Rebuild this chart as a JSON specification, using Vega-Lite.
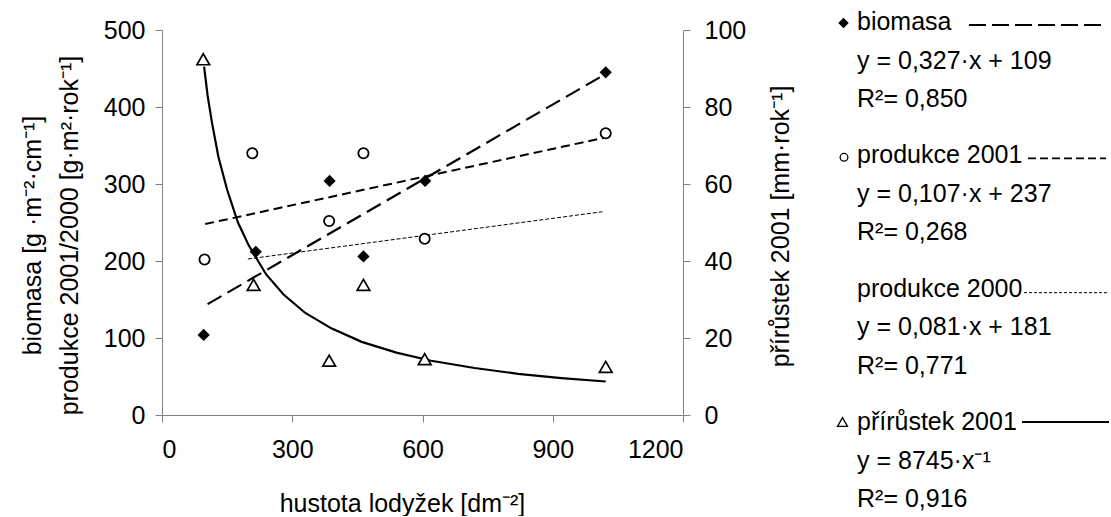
{
  "$schema": "https://vega.github.io/schema/vega-lite/v6.json",
  "padding": {"left": 20, "top": 10, "right": 0, "bottom": 0},
  "background": "white",
  "bounds": "flush",
  "spacing": 154,
  "config": {
    "view": {"stroke": null},
    "font": "Liberation Sans",
    "axis": {
      "domainColor": "#808080",
      "tickColor": "#808080",
      "domainWidth": 1,
      "tickWidth": 1,
      "tickSize": 7,
      "grid": false,
      "labelColor": "black",
      "titleColor": "black",
      "labelFont": "Liberation Sans",
      "titleFont": "Liberation Sans",
      "labelFontSize": 25,
      "titleFontSize": 25,
      "titleFontWeight": "normal"
    }
  },
  "datasets": {
    "pts": [
      {"series": "biomasa", "x": 96, "value": 104},
      {"series": "biomasa", "x": 216, "value": 212},
      {"series": "biomasa", "x": 386, "value": 304},
      {"series": "biomasa", "x": 464, "value": 206},
      {"series": "biomasa", "x": 606, "value": 304},
      {"series": "biomasa", "x": 1022, "value": 445},
      {"series": "produkce 2001", "x": 98, "value": 202},
      {"series": "produkce 2001", "x": 208, "value": 340},
      {"series": "produkce 2001", "x": 385, "value": 252},
      {"series": "produkce 2001", "x": 464, "value": 340},
      {"series": "produkce 2001", "x": 605, "value": 229},
      {"series": "produkce 2001", "x": 1022, "value": 366},
      {"series": "přírůstek 2001", "x": 95, "value": 92.4},
      {"series": "přírůstek 2001", "x": 211, "value": 33.8},
      {"series": "přírůstek 2001", "x": 385, "value": 14.1},
      {"series": "přírůstek 2001", "x": 464, "value": 33.8},
      {"series": "přírůstek 2001", "x": 605, "value": 14.5},
      {"series": "přírůstek 2001", "x": 1022, "value": 12.5},
      {"series": "trend biomasa", "x": 105, "value": 144},
      {"series": "trend biomasa", "x": 1022, "value": 443},
      {"series": "trend produkce 2001", "x": 99.5, "value": 248},
      {"series": "trend produkce 2001", "x": 1022, "value": 360.5},
      {"series": "trend produkce 2000", "x": 197.7, "value": 202.6},
      {"series": "trend produkce 2000", "x": 1014.5, "value": 264},
      {"series": "trend přírůstek 2001", "x": 97, "value": 90.5},
      {"series": "trend přírůstek 2001", "x": 105, "value": 83},
      {"series": "trend přírůstek 2001", "x": 115, "value": 76},
      {"series": "trend přírůstek 2001", "x": 130, "value": 67},
      {"series": "trend přírůstek 2001", "x": 150, "value": 58.5},
      {"series": "trend přírůstek 2001", "x": 175, "value": 50},
      {"series": "trend přírůstek 2001", "x": 200, "value": 44},
      {"series": "trend přírůstek 2001", "x": 240, "value": 36.5},
      {"series": "trend přírůstek 2001", "x": 280, "value": 31.3},
      {"series": "trend přírůstek 2001", "x": 330, "value": 26.5},
      {"series": "trend přírůstek 2001", "x": 390, "value": 22.5},
      {"series": "trend přírůstek 2001", "x": 460, "value": 19},
      {"series": "trend přírůstek 2001", "x": 540, "value": 16.2},
      {"series": "trend přírůstek 2001", "x": 620, "value": 14.1},
      {"series": "trend přírůstek 2001", "x": 720, "value": 12.2},
      {"series": "trend přírůstek 2001", "x": 820, "value": 10.7},
      {"series": "trend přírůstek 2001", "x": 920, "value": 9.6},
      {"series": "trend přírůstek 2001", "x": 1022, "value": 8.7}
    ],
    "legend": [
      {"group": "biomasa", "lines": ["biomasa", "y = 0,327·x + 109", "R²= 0,850"]},
      {"group": "produkce 2001", "lines": ["produkce 2001", "y = 0,107·x + 237", "R²= 0,268"]},
      {"group": "produkce 2000", "lines": ["produkce 2000", "y = 0,081·x + 181", "R²= 0,771"]},
      {"group": "přírůstek 2001", "lines": ["přírůstek 2001", "y = 8745·x⁻¹", "R²= 0,916"]}
    ]
  },
  "hconcat": [
    {
      "width": 521,
      "height": 385,
      "data": {"name": "pts"},
      "encoding": {
        "x": {"field": "x", "type": "quantitative", "scale": {"domain": [0, 1200], "nice": false},
          "axis": {"values": [0, 300, 600, 900, 1200], "format": "d", "title": "hustota lodyžek [dm⁻²]", "labelPadding": 15, "titlePadding": 29, "titleX": 240}}
      },
      "layer": [
        {
          "encoding": {
            "y": {"field": "value", "type": "quantitative", "scale": {"domain": [0, 500], "nice": false},
              "axis": {"orient": "left", "values": [0, 100, 200, 300, 400, 500], "format": "d", "title": ["biomasa [g ·m⁻²·cm⁻¹]", "produkce 2001/2000 [g·m²·rok⁻¹]"], "titleLineHeight": 37, "labelPadding": 10, "titlePadding": 21, "titleY": 205}}
          },
          "layer": [
            {"transform": [{"filter": "datum.series === 'trend produkce 2000'"}], "mark": {"type": "line", "color": "black", "strokeWidth": 1, "strokeDash": [4, 2]}},
            {"transform": [{"filter": "datum.series === 'trend produkce 2001'"}], "mark": {"type": "line", "color": "black", "strokeWidth": 2, "strokeDash": [9, 5]}},
            {"transform": [{"filter": "datum.series === 'trend biomasa'"}], "mark": {"type": "line", "color": "black", "strokeWidth": 2.2, "strokeDash": [16, 7]}},
            {"transform": [{"filter": "datum.series === 'produkce 2001'"}], "mark": {"type": "point", "shape": "circle", "filled": true, "fill": "white", "stroke": "black", "strokeWidth": 1.8, "size": 105, "opacity": 1}},
            {"transform": [{"filter": "datum.series === 'biomasa'"}], "mark": {"type": "point", "shape": "diamond", "filled": true, "color": "black", "size": 150, "opacity": 1}}
          ]
        },
        {
          "encoding": {
            "y": {"field": "value", "type": "quantitative", "scale": {"domain": [0, 100], "nice": false},
              "axis": {"orient": "right", "values": [0, 20, 40, 60, 80, 100], "format": "d", "title": "přírůstek 2001 [mm·rok⁻¹]", "titleAngle": 270, "titleBaseline": "top", "labelPadding": 14, "titlePadding": 23, "titleY": 196}}
          },
          "layer": [
            {"transform": [{"filter": "datum.series === 'trend přírůstek 2001'"}], "mark": {"type": "line", "color": "black", "strokeWidth": 2.2}},
            {"transform": [{"filter": "datum.series === 'přírůstek 2001'"}], "mark": {"type": "point", "shape": "triangle-up", "filled": true, "fill": "white", "stroke": "black", "strokeWidth": 1.7, "size": 160, "opacity": 1}}
          ]
        }
      ],
      "resolve": {"scale": {"y": "independent"}}
    },
    {
      "width": 272,
      "height": 400,
      "data": {"name": "legend"},
      "encoding": {
        "y": {"field": "group", "type": "ordinal", "sort": null, "scale": {"type": "point", "padding": 0}, "axis": null}
      },
      "layer": [
        {"mark": {"type": "text", "align": "left", "baseline": "alphabetic", "fontSize": 25, "lineHeight": 38.5, "font": "Liberation Sans", "color": "black"},
          "encoding": {"x": {"datum": 20, "type": "quantitative", "scale": {"domain": [0, 272], "nice": false, "zero": false}, "axis": null}, "text": {"field": "lines", "type": "nominal"}}},
        {"transform": [{"filter": "datum.group === 'biomasa'"}], "mark": {"type": "point", "shape": "diamond", "filled": true, "color": "black", "size": 110, "opacity": 1, "yOffset": -7},
          "encoding": {"x": {"datum": 6.5, "type": "quantitative"}}},
        {"transform": [{"filter": "datum.group === 'produkce 2001'"}], "mark": {"type": "point", "shape": "circle", "filled": true, "fill": "white", "stroke": "black", "strokeWidth": 1.3, "size": 60, "opacity": 1, "yOffset": -6},
          "encoding": {"x": {"datum": 7, "type": "quantitative"}}},
        {"transform": [{"filter": "datum.group === 'přírůstek 2001'"}], "mark": {"type": "point", "shape": "triangle-up", "filled": true, "fill": "white", "stroke": "black", "strokeWidth": 1.3, "size": 100, "opacity": 1, "yOffset": -8},
          "encoding": {"x": {"datum": 5.5, "type": "quantitative"}}},
        {"transform": [{"filter": "datum.group === 'biomasa'"}], "mark": {"type": "rule", "color": "black", "strokeWidth": 2, "strokeDash": [17, 6], "yOffset": -5},
          "encoding": {"x": {"datum": 132, "type": "quantitative"}, "x2": {"datum": 269}}},
        {"transform": [{"filter": "datum.group === 'produkce 2001'"}], "mark": {"type": "rule", "color": "black", "strokeWidth": 1.8, "strokeDash": [8, 4], "yOffset": -5},
          "encoding": {"x": {"datum": 191, "type": "quantitative"}, "x2": {"datum": 269}}},
        {"transform": [{"filter": "datum.group === 'produkce 2000'"}], "mark": {"type": "rule", "color": "black", "strokeWidth": 1, "strokeDash": [3, 2], "yOffset": -4},
          "encoding": {"x": {"datum": 187, "type": "quantitative"}, "x2": {"datum": 271}}},
        {"transform": [{"filter": "datum.group === 'přírůstek 2001'"}], "mark": {"type": "rule", "color": "black", "strokeWidth": 1.8, "yOffset": -8},
          "encoding": {"x": {"datum": 185, "type": "quantitative"}, "x2": {"datum": 272}}}
      ]
    }
  ]
}
